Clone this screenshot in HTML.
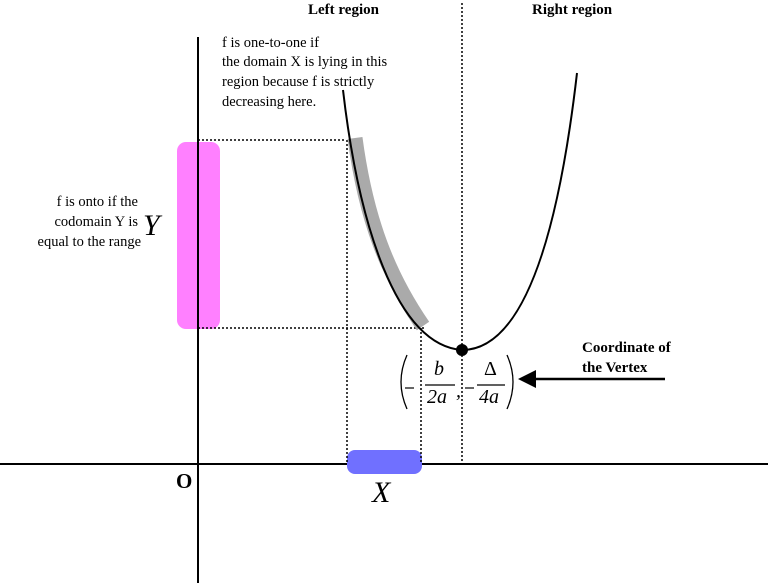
<!DOCTYPE html>
<html><head><meta charset="utf-8"><style>
html,body{margin:0;padding:0;background:#fff;width:768px;height:583px;overflow:hidden}
svg{display:block}
.t{font-family:"Liberation Serif",serif;font-size:14.5px;fill:#000}
.b{font-family:"Liberation Serif",serif;font-size:15px;font-weight:bold;fill:#000}
.m{font-family:"Liberation Serif",serif;font-style:italic;fill:#000}
</style></head><body>
<svg width="768" height="583" viewBox="0 0 768 583">
<rect x="177" y="142" width="43" height="187" rx="9" fill="#ff80ff"/>
<line x1="0" y1="464" x2="768" y2="464" stroke="#000" stroke-width="2"/>
<line x1="198" y1="37" x2="198" y2="583" stroke="#000" stroke-width="2"/>
<rect x="347" y="450" width="75" height="24" rx="8" fill="#7070ff"/>
<g stroke="#000" stroke-width="1.5" stroke-dasharray="2,2" fill="none">
<line x1="198" y1="140" x2="346" y2="140"/>
<line x1="198" y1="328" x2="425" y2="328"/>
<line x1="347" y1="140" x2="347" y2="464"/>
<line x1="421" y1="328" x2="421" y2="464"/>
<line x1="462" y1="3" x2="462" y2="464"/>
</g>
<path d="M355,138 C366,220 388,275 423,326" stroke="#aaa" stroke-width="15" fill="none"/>
<path d="M343,90 C358,220 395,345 462,350 Q545,350 577,73" stroke="#000" stroke-width="2" fill="none"/>
<circle cx="462" cy="350" r="6" fill="#000"/>
<text class="b" x="308" y="14">Left region</text>
<text class="b" x="532" y="14">Right region</text>
<text class="t" x="222" y="47">f is one-to-one if</text>
<text class="t" x="222" y="66">the domain X is lying in this</text>
<text class="t" x="222" y="86">region because f is strictly</text>
<text class="t" x="222" y="106">decreasing here.</text>
<text class="t" x="138" y="206" text-anchor="end">f is onto if the</text>
<text class="t" x="138" y="226" text-anchor="end">codomain Y is</text>
<text class="t" x="141" y="246" text-anchor="end">equal to the range</text>
<text class="m" x="143" y="235" font-size="30">Y</text>
<text class="m" x="372" y="502" font-size="30">X</text>
<text x="176" y="488" style="font-family:'Liberation Serif',serif;font-weight:bold;font-size:21px">O</text>
<text class="b" x="582" y="352">Coordinate of</text>
<text class="b" x="582" y="372">the Vertex</text>
<line x1="535" y1="379" x2="665" y2="379" stroke="#000" stroke-width="2.5"/>
<polygon points="518,379 536,370 536,388" fill="#000"/>
<path d="M407,355 Q395,382 407,409" stroke="#000" stroke-width="1.3" fill="none"/>
<path d="M507,355 Q519,382 507,409" stroke="#000" stroke-width="1.3" fill="none"/>
<line x1="405" y1="388" x2="414" y2="388" stroke="#000" stroke-width="1.2"/>
<line x1="425" y1="385" x2="455" y2="385" stroke="#000" stroke-width="1.2"/>
<text class="m" x="434" y="375" font-size="20">b</text>
<text class="m" x="427" y="403" font-size="20">2a</text>
<text class="m" x="456" y="397" font-size="20">,</text>
<line x1="465" y1="388" x2="474" y2="388" stroke="#000" stroke-width="1.2"/>
<line x1="477" y1="385" x2="505" y2="385" stroke="#000" stroke-width="1.2"/>
<text x="484" y="375" font-family="Liberation Serif,serif" font-size="20">Δ</text>
<text class="m" x="479" y="403" font-size="20">4a</text>
</svg>
</body></html>
